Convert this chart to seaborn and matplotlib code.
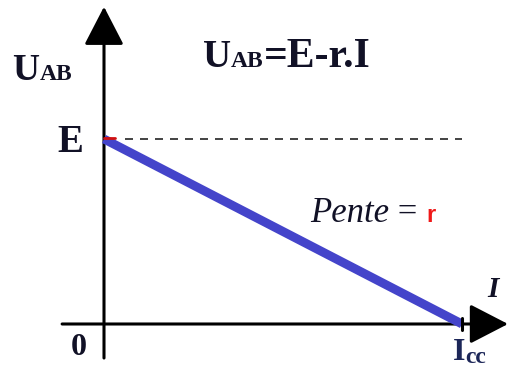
import matplotlib
matplotlib.use("Agg")
import matplotlib.pyplot as plt
from matplotlib.transforms import IdentityTransform
import seaborn as sns

# Characteristic of a real voltage generator: U_AB = E - r.I
emf = 1.0                 # E
resistance = 1.0          # r
short_circuit = emf / resistance   # Icc
current = [0.0, short_circuit]     # I
voltage = [emf, 0.0]               # U_AB

sns.set_theme(style="white")
plt.rcParams['font.family'] = ['Liberation Serif', 'DejaVu Serif']

INK = '#111126'
BLUE = '#4444ca'

fig = plt.figure(figsize=(5.08, 3.72), dpi=100)
ax = fig.add_axes([0, 0, 1, 1])
ax.set_xlim(-0.2905, 1.1285)
ax.set_ylim(-0.2595, 1.7514)
ax.axis('off')

# axes with arrowheads
arrow = dict(arrowstyle='-|>,head_length=1.2,head_width=0.62', mutation_scale=20,
             lw=2.2, color='black', shrinkA=0, shrinkB=0)
ax.annotate('', xy=(1.1285, 0), xytext=(-0.117, 0), arrowprops=arrow, zorder=2)
ax.annotate('', xy=(0, 1.715), xytext=(0, -0.184), arrowprops=arrow, zorder=2)

# tick at the short-circuit current
ax.plot([short_circuit, short_circuit], [-0.035, 0.035], color='black', lw=2.2, zorder=4)

# horizontal reference at E
ax.plot([0.06, short_circuit], [emf, emf], color='#222222', lw=1.2,
        ls=(0, (4.8, 4.2)), zorder=2)
ax.plot([0, 0.03], [emf + 0.008, emf + 0.008], color='#d01010', lw=2, zorder=5)

# the characteristic itself
sns.lineplot(x=current, y=voltage, ax=ax, color=BLUE, lw=6.4,
             solid_capstyle='butt', zorder=3)

fig.canvas.draw()
renderer = fig.canvas.get_renderer()


def chain(x, y, pieces):
    """Write text pieces one after another on a common baseline."""
    px, py = ax.transData.transform((x, y))
    for text, dy, kw in pieces:
        t = ax.text(px, py + dy, text, transform=IdentityTransform(),
                    ha='left', va='baseline', **kw)
        px = t.get_window_extent(renderer=renderer).x1


bold = dict(fontweight='bold', color=INK)

# y-axis name
chain(-0.256, 1.319, [('U', 0, dict(fontsize=27, **bold)),
                      ('AB', 0, dict(fontsize=17, **bold))])
# equation
chain(0.2765, 1.389, [('U', 0, dict(fontsize=28, **bold)),
                      ('AB', 0, dict(fontsize=17, **bold)),
                      ('=E-r.I', 0, dict(fontsize=30, **bold))])
# slope
chain(0.575, 0.551, [('Pente', 0, dict(fontsize=25, fontstyle='italic', color=INK)),
                     (' = ', 0, dict(fontsize=25, color=INK)),
                     ('r', 0, dict(fontsize=17, fontweight='bold', color='#f01818',
                                   family=['Liberation Sans', 'DejaVu Sans']))])
# x-axis name
chain(1.07, 0.146, [('I', 0, dict(fontsize=21, fontweight='bold', fontstyle='italic',
                                  color=INK))])
# short-circuit current
chain(0.975, -0.195, [('I', 0, dict(fontsize=23, fontweight='bold', color='#1c2658')),
                      ('cc', -3, dict(fontsize=17, fontweight='bold', color='#1c2658'))])

ax.text(-0.058, emf - 0.07, 'E', ha='right', va='baseline', fontsize=28, **bold)
ax.text(-0.07, -0.168, '0', ha='center', va='baseline', fontsize=23, **bold)

fig.savefig('out.png', dpi=100)
